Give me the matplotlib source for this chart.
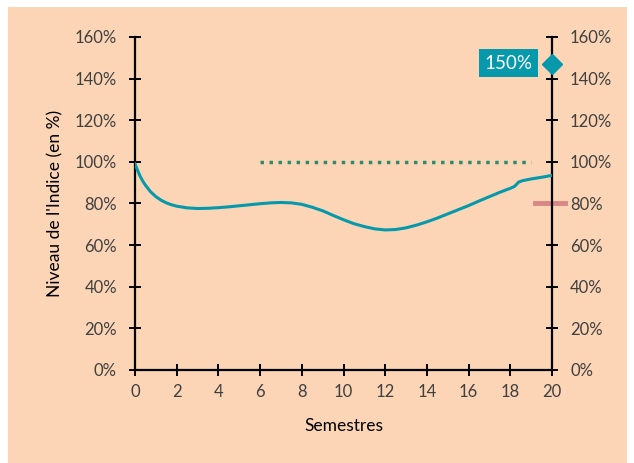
import matplotlib
matplotlib.use("Agg")
import matplotlib.pyplot as plt
from matplotlib.patches import Rectangle
from matplotlib.ticker import FuncFormatter

plt.rcParams['font.family'] = ['Lato', 'DejaVu Sans']

# Niveau de l'indice (en %)
semestres = [0, 0.1, 0.25, 0.4, 0.5, 0.75, 1, 1.25, 1.5, 1.75, 2, 2.5, 3, 3.5,
             4, 4.5, 5, 5.5, 6, 6.5, 7, 7.5, 8, 8.5, 9, 9.5, 10, 10.5, 11,
             11.5, 12, 12.5, 13, 13.5, 14, 14.5, 15, 15.5, 16, 16.5, 17, 17.5,
             18, 18.2, 18.3, 18.4, 18.6, 19, 19.5, 20]
indice = [99, 96.5, 93, 90.3, 88.8, 85.6, 83.3, 81.6, 80.3, 79.4, 78.7, 77.9,
          77.6, 77.7, 78.0, 78.4, 78.9, 79.4, 79.9, 80.3, 80.5, 80.3, 79.6,
          78.2, 76.5, 74.3, 72.2, 70.3, 68.9, 67.8, 67.3, 67.5, 68.3, 69.6,
          71.2, 73.0, 75.0, 77.0, 79.0, 81.2, 83.3, 85.4, 87.3, 88.2, 89.2,
          90.3, 91.0, 91.8, 92.6, 93.5]

barriere_x = [6, 19]
barriere_y = [100, 100]
seuil_x = [19.2, 20.6]
seuil_y = [80, 80]
plafond_x = 20
plafond_y = 147
plafond_label = "150%"

bg = '#fbd5b5'
teal = '#0599ab'
vert = '#2e8b6e'
rose = '#d98686'

fig = plt.figure(figsize=(6.34, 4.63), dpi=100)
fig.patch.set_facecolor('white')
fig.patches.append(Rectangle((8 / 634, 0), 619 / 634, 456 / 463,
                             transform=fig.transFigure, facecolor=bg,
                             edgecolor='none', zorder=-10))

ax = fig.add_axes([135 / 634, 93 / 463, 417 / 634, 333 / 463])
ax.set_facecolor('none')

ax.plot(semestres, indice, color=teal, lw=2.2, zorder=3)
ax.plot(barriere_x, barriere_y, color=vert, lw=2.5, ls=(0, (1, 1.6)), zorder=2)
ax.plot(seuil_x, seuil_y, color=rose, lw=3.5, clip_on=False, zorder=2)
ax.plot([plafond_x], [plafond_y], marker='D', color=teal, ms=10,
        clip_on=False, zorder=4)
ax.text(19.05, 147.5, plafond_label, ha='right', va='center', color='white',
        fontsize=13.5,
        bbox=dict(boxstyle='square,pad=0.3', fc=teal, ec='none'))

ax.set_xlim(0, 20)
ax.set_ylim(0, 160)
ax.set_xticks(range(0, 21, 2))
ax.set_yticks(range(0, 161, 20))
pct = FuncFormatter(lambda v, p: '%d%%' % v)
ax.yaxis.set_major_formatter(pct)

ax.spines['top'].set_visible(False)
for s in ['left', 'right', 'bottom']:
    ax.spines[s].set_linewidth(1.6)
    ax.spines[s].set_color('black')

ax.tick_params(axis='both', direction='inout', length=8, width=1.4,
               labelsize=12, labelcolor='#404040')
ax.tick_params(axis='x', pad=6)
ax.tick_params(axis='y', left=True, labelleft=True, pad=9)
ax.tick_params(axis='y', which='both', right=True, labelright=True)
for lab in ax.get_yticklabels(which='major'):
    pass
ax.yaxis.set_tick_params(which='major', pad=9)
for t in ax.yaxis.get_major_ticks():
    t.label2.set_x(1.0)
    t.set_pad(9)

ax.set_xlabel('Semestres', fontsize=12.5, labelpad=13)
ax.set_ylabel("Niveau de l'Indice (en %)", fontsize=12.5, labelpad=8)

fig.savefig('out.png', dpi=100)
